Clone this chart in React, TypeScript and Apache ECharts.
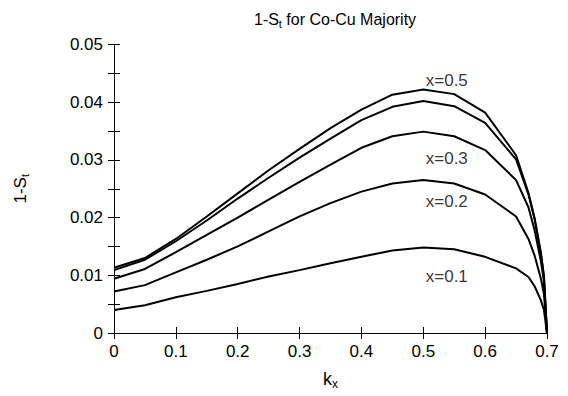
import React, { useEffect, useRef } from "react";
import * as echarts from "echarts";

const kx = [0, 0.05, 0.1, 0.15, 0.2, 0.25, 0.3, 0.35, 0.4, 0.45, 0.5, 0.55, 0.6, 0.65, 0.67, 0.68, 0.69, 0.695, 0.7];

const s01 = [0.0040, 0.0048, 0.0062, 0.0073, 0.0085, 0.0098, 0.0109, 0.0121, 0.0132, 0.0143, 0.0148, 0.0145, 0.0132, 0.0112, 0.0097, 0.0081, 0.0057, 0.0040, 0];
const s02 = [0.0072, 0.0083, 0.0105, 0.0127, 0.0150, 0.0176, 0.0202, 0.0225, 0.0245, 0.0259, 0.0265, 0.0259, 0.0240, 0.0202, 0.0163, 0.0134, 0.0095, 0.0068, 0];
const s03 = [0.0094, 0.0111, 0.0140, 0.0170, 0.0200, 0.0231, 0.0262, 0.0292, 0.0321, 0.0341, 0.0349, 0.0341, 0.0317, 0.0265, 0.0218, 0.0178, 0.0125, 0.0090, 0];
const s04 = [0.0109, 0.0127, 0.0159, 0.0195, 0.0233, 0.0269, 0.0304, 0.0337, 0.0369, 0.0392, 0.0402, 0.0393, 0.0364, 0.0301, 0.0240, 0.0197, 0.0138, 0.0098, 0];
const s05 = [0.0113, 0.0130, 0.0163, 0.0202, 0.0242, 0.0282, 0.0319, 0.0355, 0.0387, 0.0413, 0.0422, 0.0414, 0.0382, 0.0308, 0.0243, 0.0199, 0.0140, 0.0099, 0];

const seriesNames = ["x=0.1", "x=0.2", "x=0.3", "x=0.4", "x=0.5"];
const seriesValues = [s01, s02, s03, s04, s05];

const labelTexts = ["x=0.5", "x=0.3", "x=0.2", "x=0.1"];
const labelX = [0.538, 0.538, 0.538, 0.538];
const labelY = [0.0437, 0.0303, 0.0228, 0.0098];

const xTicks = { min: 0, max: 0.7, interval: 0.1 };
const yTicks = { min: 0, max: 0.05, interval: 0.01 };

const FONT = "Liberation Sans";

export default function App() {
  const ref = useRef<HTMLDivElement>(null);
  useEffect(() => {
    if (!ref.current) return;
    const chart = echarts.init(ref.current, null, { renderer: "svg" });
    const axisLineStyle = { lineStyle: { color: "#000", width: 1 } };
    const option: any = {
      animation: false,
      backgroundColor: "#fff",
      title: {
        text: "1-S{sub|t} for Co-Cu Majority",
        left: 330,
        top: 4,
        textAlign: "center",
        textStyle: {
          fontFamily: FONT,
          fontSize: 16,
          fontWeight: "normal",
          color: "#000",
          lineHeight: 20,
          rich: {
            sub: { fontFamily: FONT, fontSize: 11, verticalAlign: "bottom", lineHeight: 11, color: "#000" },
          },
        },
      },
      grid: { left: 114, right: 21, top: 44.5, bottom: 63, containLabel: false },
      xAxis: [
        {
          type: "value",
          min: xTicks.min,
          max: xTicks.max,
          interval: xTicks.interval,
          name: "k{sub|x}",
          nameLocation: "middle",
          nameGap: 35,
          nameTextStyle: {
            fontFamily: FONT,
            fontSize: 18,
            color: "#000",
            lineHeight: 22,
            rich: { sub: { fontFamily: FONT, fontSize: 12, verticalAlign: "bottom", lineHeight: 12, color: "#000" } },
          },
          axisLine: axisLineStyle,
          axisTick: { show: true, inside: true, length: 6, lineStyle: { color: "#000" } },
          axisLabel: { fontFamily: FONT, fontSize: 17, color: "#000", margin: 10 },
          splitLine: { show: false },
        },
        {
          type: "value",
          position: "top",
          min: xTicks.min,
          max: xTicks.max,
          interval: xTicks.interval,
          axisLine: axisLineStyle,
          axisTick: { show: true, inside: true, length: 6, lineStyle: { color: "#000" } },
          axisLabel: { show: false },
          splitLine: { show: false },
        },
      ],
      yAxis: [
        {
          type: "value",
          min: yTicks.min,
          max: yTicks.max,
          interval: yTicks.interval,
          name: "1-S{sub|t}",
          nameLocation: "middle",
          nameRotate: 90,
          nameGap: 84,
          nameTextStyle: {
            fontFamily: FONT,
            fontSize: 17,
            color: "#000",
            lineHeight: 20,
            rich: { sub: { fontFamily: FONT, fontSize: 11, verticalAlign: "bottom", lineHeight: 11, color: "#000" } },
          },
          axisLine: { show: true, ...axisLineStyle },
          axisTick: { show: true, inside: true, length: 6, lineStyle: { color: "#000" } },
          minorTick: { show: true, splitNumber: 2, length: 6, lineStyle: { color: "#000" } },
          axisLabel: { fontFamily: FONT, fontSize: 17, color: "#000", margin: 11 },
          splitLine: { show: false },
        },
        {
          type: "value",
          position: "right",
          min: yTicks.min,
          max: yTicks.max,
          interval: yTicks.interval,
          axisLine: { show: true, ...axisLineStyle },
          axisTick: { show: true, inside: true, length: 6, lineStyle: { color: "#000" } },
          minorTick: { show: true, splitNumber: 2, length: 6, lineStyle: { color: "#000" } },
          axisLabel: { show: false },
          splitLine: { show: false },
        },
      ],
      series: [
        ...seriesValues.map((vals, i) => ({
          type: "line",
          name: seriesNames[i],
          xAxisIndex: 0,
          yAxisIndex: 0,
          data: kx.map((k, j) => [k, vals[j]]),
          showSymbol: false,
          symbol: "none",
          lineStyle: { color: "#000", width: 2 },
          silent: true,
        })),
        {
          type: "scatter",
          name: "labels",
          xAxisIndex: 0,
          yAxisIndex: 0,
          symbolSize: 0,
          silent: true,
          data: labelTexts.map((t, i) => ({ value: [labelX[i], labelY[i]], name: t })),
          label: {
            show: true,
            position: "inside",
            formatter: (p: any) => p.name,
            fontFamily: FONT,
            fontSize: 17,
            color: "#000",
          },
        },
      ],
    };
    chart.setOption(option);
    return () => chart.dispose();
  }, []);
  return <div ref={ref} style={{ width: 568, height: 396, margin: -8 }} />;
}
